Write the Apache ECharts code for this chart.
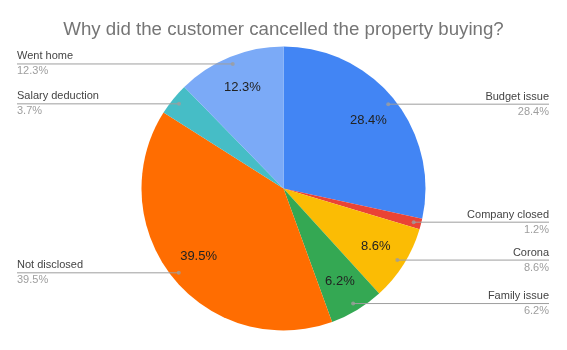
<!DOCTYPE html>
<html>
<head>
<meta charset="utf-8">
<style>
  html, body { margin: 0; padding: 0; background: #fff; }
  #chart { width: 567px; height: 350px; }
</style>
<script src="https://cdn.jsdelivr.net/npm/echarts@6/dist/echarts.min.js"></script>
</head>
<body>
<div id="chart"></div>
<script>
// Reasons for cancelled property purchases (share of customers, %)
const categories = ['Budget issue', 'Company closed', 'Corona', 'Family issue', 'Not disclosed', 'Salary deduction', 'Went home'];
const shares = [28.4, 1.2, 8.6, 6.2, 39.5, 3.7, 12.3];
const sliceColors = ['#4285F4', '#EA4335', '#FBBC04', '#34A853', '#FF6D01', '#46BDC6', '#7BAAF7'];
const titleText = 'Why did the customer cancelled the property buying?';

// geometry of the pie
const CX = 283.5, CY = 188.5, R = 142;
const DOT_FRAC = 0.947;          // leader-line dot, as a fraction of the radius
const LEFT_EDGE = 17, RIGHT_EDGE = 549;
const FONT = '"Liberation Sans", Arial, sans-serif';

const total = shares.reduce((a, b) => a + b, 0);
const midValues = [];
let acc = 0;
shares.forEach(v => { midValues.push(acc + v / 2); acc += v; });

function dotPixel(i) {
  const a = midValues[i] / total * 2 * Math.PI;
  const r = R * DOT_FRAC;
  return [CX + r * Math.sin(a), CY - r * Math.cos(a)];
}

const pieBase = {
  type: 'pie',
  center: [CX, CY],
  startAngle: 90,
  clockwise: true,
  silent: true,
  avoidLabelOverlap: false
};

const chart = echarts.init(document.getElementById('chart'), null, { renderer: 'canvas' });
chart.setOption({
  animation: false,
  backgroundColor: '#ffffff',
  title: {
    text: titleText,
    left: 'center',
    top: 15,
    textStyle: { color: '#757575', fontSize: 18.7, fontWeight: 'normal', fontFamily: FONT }
  },
  polar: { center: [CX, CY], radius: R },
  angleAxis: { type: 'value', min: 0, max: total, startAngle: 90, clockwise: true, show: false },
  radiusAxis: { type: 'value', min: 0, max: 1, show: false },
  series: [
    Object.assign({}, pieBase, {
      // coloured slices
      radius: R,
      z: 1,
      data: categories.map((name, i) => ({ name: name, value: shares[i], itemStyle: { color: sliceColors[i] } })),
      itemStyle: { borderWidth: 0 },
      label: { show: false },
      labelLine: { show: false }
    }),
    Object.assign({}, pieBase, {
      // percentage labels inside the larger slices
      radius: [70, R],
      z: 2,
      data: categories.map((name, i) => ({ name: name, value: shares[i] })),
      itemStyle: { color: 'rgba(0,0,0,0)' },
      label: {
        show: true,
        position: 'inside',
        fontSize: 13,
        fontFamily: FONT,
        color: '#222222',
        formatter: p => (p.value >= 5 ? p.value.toFixed(1) + '%' : '')
      },
      labelLine: { show: false }
    }),
    Object.assign({}, pieBase, {
      // side labels with horizontal leader lines
      radius: R,
      z: 3,
      data: categories.map((name, i) => ({ name: name, value: shares[i] })),
      itemStyle: { color: 'rgba(0,0,0,0)' },
      label: {
        show: true,
        position: 'outside',
        formatter: p => '{n|' + p.name + '}\n{p|' + p.value.toFixed(1) + '%}',
        rich: {
          n: { fontSize: 11, fontFamily: FONT, color: '#444444', lineHeight: 15 },
          p: { fontSize: 11, fontFamily: FONT, color: '#9e9e9e', lineHeight: 15 }
        }
      },
      labelLine: { show: true, length: 5, length2: 5, lineStyle: { color: '#9e9e9e', width: 1 } },
      labelLayout: function (params) {
        const pt = dotPixel(params.dataIndex);
        const right = pt[0] > CX;
        const edge = right ? RIGHT_EDGE : LEFT_EDGE;
        return {
          x: edge,
          y: pt[1],
          align: right ? 'right' : 'left',
          verticalAlign: 'middle',
          labelLinePoints: [[pt[0], pt[1]], [edge, pt[1]], [edge, pt[1]]]
        };
      }
    }),
    {
      // leader-line anchor dots
      type: 'scatter',
      coordinateSystem: 'polar',
      silent: true,
      z: 4,
      symbol: 'circle',
      symbolSize: 4,
      itemStyle: { color: '#9e9e9e' },
      data: midValues.map(m => [DOT_FRAC, m])
    }
  ]
});
</script>
</body>
</html>
